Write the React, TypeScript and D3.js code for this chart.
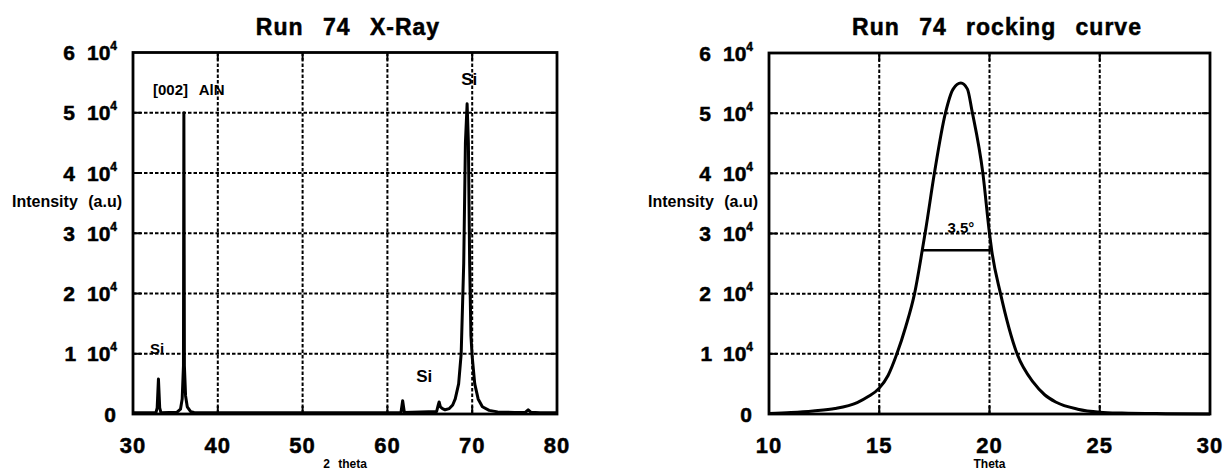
import React from "react";
import * as d3 from "d3";

// y axis is shared: intensity in counts, labelled as "n 10^4"
const yTicks = [0, 10000, 20000, 30000, 40000, 50000, 60000];

// left panel: theta-2theta scan
const xrdTicks = [30, 40, 50, 60, 70, 80];
const xrdTheta = [
  30, 32.7, 32.85, 33.0, 33.15, 33.3, 35.2, 35.6, 35.8, 35.95, 36.0, 36.06,
  36.2, 36.4, 36.8, 37.2, 40, 50, 60, 61.6, 61.8, 62.0, 65.8, 66.0, 66.1,
  66.25, 66.5, 66.8, 67.3, 67.7, 68.0, 68.4, 68.7, 69.0, 69.2, 69.4, 69.55,
  69.7, 69.85, 70.0, 70.3, 70.7, 71.2, 72.0, 73.0, 75.0, 76.3, 76.6, 76.9,
  78.0, 80
];
const xrdCounts = [
  200, 200, 1000, 5800, 1000, 200, 300, 800, 2500, 8000, 50000, 8000,
  3000, 1200, 400, 250, 200, 200, 200, 250, 2200, 250, 400, 1500, 2000,
  1200, 900, 700, 900, 1500, 2500, 5000, 10000, 25000, 45000, 51500, 45000,
  25000, 13000, 9500, 5000, 2500, 1200, 600, 350, 250, 300, 700, 300,
  200, 200
];

// right panel: rocking curve
const rockTicks = [10, 15, 20, 25, 30];
const rockTheta = [
  10, 11, 12, 13, 14, 14.5, 15, 15.4, 15.8, 16.2, 16.6, 16.95, 17.1, 17.5,
  18.0, 18.35, 18.7, 19.0, 19.2, 19.7, 20.0, 20.1, 20.5, 21.25, 22, 22.5, 23,
  24, 25, 26, 28, 30
];
const rockCounts = [
  100, 250, 500, 900, 1900, 2900, 4300, 6400, 10000, 14500, 20000, 27200,
  30500, 40000, 50000, 54000, 55000, 54000, 50500, 40000, 30000, 27200, 20000,
  10000, 5200, 3200, 2000, 800, 300, 150, 50, 0
];
const fwhmEnds = [16.95, 20.1];
const fwhmLevel = 27200;

const FONT = "'Liberation Sans', Arial, Helvetica, sans-serif";

type PanelProps = {
  left: number;
  right: number;
  top: number;
  bottom: number;
  xDomain: [number, number];
  xTicks: number[];
  xs: number[];
  ys: number[];
  smooth?: boolean;
  title: string;
  titleX: number;
  xLabel: string;
  annotate?: (
    x: d3.ScaleLinear<number, number>,
    y: d3.ScaleLinear<number, number>
  ) => React.ReactNode;
};

// scanned print looks heavy, so the big texts get a thin outline
const heavy = { stroke: "#000", strokeWidth: 0.5 };

function Panel(p: PanelProps) {
  const x = d3.scaleLinear().domain(p.xDomain).range([p.left, p.right]);
  const y = d3.scaleLinear().domain([0, 60000]).range([p.bottom, p.top]);
  const line = d3
    .line<number>()
    .x((d, i) => x(p.xs[i]))
    .y((d) => y(d))
    .curve(p.smooth ? d3.curveMonotoneX : d3.curveLinear);

  const inner = p.xTicks.slice(1, -1);
  const innerY = yTicks.slice(1, -1);
  const tick = 8;

  return (
    <g fontFamily={FONT} fontWeight="bold" fill="#000">
      {/* dotted grid */}
      {inner.map((v) => (
        <line
          key={"gx" + v}
          x1={x(v)}
          x2={x(v)}
          y1={p.top}
          y2={p.bottom}
          stroke="#000"
          strokeWidth={2}
          strokeDasharray="3.5 2"
        />
      ))}
      {innerY.map((v) => (
        <line
          key={"gy" + v}
          x1={p.left}
          x2={p.right}
          y1={y(v)}
          y2={y(v)}
          stroke="#000"
          strokeWidth={2}
          strokeDasharray="3.5 2"
        />
      ))}
      {/* inward ticks */}
      {inner.map((v) => (
        <g key={"tx" + v} stroke="#000" strokeWidth={2}>
          <line x1={x(v)} x2={x(v)} y1={p.bottom} y2={p.bottom - tick} />
          <line x1={x(v)} x2={x(v)} y1={p.top} y2={p.top + tick} />
        </g>
      ))}
      {innerY.map((v) => (
        <g key={"ty" + v} stroke="#000" strokeWidth={2}>
          <line x1={p.left} x2={p.left + tick} y1={y(v)} y2={y(v)} />
          <line x1={p.right} x2={p.right - tick} y1={y(v)} y2={y(v)} />
        </g>
      ))}

      <path
        d={line(p.ys) || ""}
        fill="none"
        stroke="#000"
        strokeWidth={3}
        strokeLinejoin="round"
      />

      <rect
        x={p.left}
        y={p.top}
        width={p.right - p.left}
        height={p.bottom - p.top}
        fill="none"
        stroke="#000"
        strokeWidth={2.8}
      />

      {/* y tick labels */}
      {yTicks.map((v) => {
        const m = v / 10000;
        if (m === 0) {
          return (
            <text
              key={"ly" + v}
              x={p.left - 17}
              y={y(v) + 7.5}
              textAnchor="end"
              fontSize={21}
              {...heavy}
            >
              0
            </text>
          );
        }
        return (
          <text
            key={"ly" + v}
            x={p.left - 16}
            y={y(v) + 7.5}
            textAnchor="end"
            fontSize={21}
            {...heavy}
          >
            {m}
            <tspan dx={12}>10</tspan>
            <tspan dy={-10} fontSize={12}>
              4
            </tspan>
          </text>
        );
      })}

      {/* x tick labels */}
      {p.xTicks.map((v) => (
        <text
          key={"lx" + v}
          x={x(v)}
          y={453}
          textAnchor="middle"
          fontSize={22}
          letterSpacing={1}
          {...heavy}
        >
          {v}
        </text>
      ))}

      <text
        x={(p.left + p.right) / 2}
        y={468}
        textAnchor="middle"
        fontSize={12}
        style={{ wordSpacing: "5px" }}
      >
        {p.xLabel}
      </text>

      <text
        x={p.left - 11}
        y={207}
        textAnchor="end"
        fontSize={16}
        style={{ wordSpacing: "6px" }}
      >
        Intensity (a.u)
      </text>

      <text
        x={p.titleX}
        y={35}
        textAnchor="middle"
        fontSize={23}
        letterSpacing={1}
        style={{ wordSpacing: "12px" }}
        {...heavy}
      >
        {p.title}
      </text>

      {p.annotate ? p.annotate(x, y) : null}
    </g>
  );
}

export default function App() {
  return (
    <svg
      width={1226}
      height={473}
      style={{ position: "absolute", left: 0, top: 0, background: "#fff" }}
    >
      <Panel
        left={133}
        right={557}
        top={52.5}
        bottom={414}
        xDomain={[30, 80]}
        xTicks={xrdTicks}
        xs={xrdTheta}
        ys={xrdCounts}
        title="Run 74 X-Ray"
        titleX={348}
        xLabel="2 theta"
        annotate={(x, y) => (
          <g fontWeight="bold">
            <text x={153} y={95} fontSize={15} style={{ wordSpacing: "7px" }}>
              [002] AlN
            </text>
            <text x={x(32.0)} y={y(10000)} fontSize={15}>
              Si
            </text>
            <text x={x(63.4)} y={382} fontSize={17}>
              Si
            </text>
            <text x={x(68.7)} y={85} fontSize={17}>
              Si
            </text>
          </g>
        )}
      />
      <Panel
        left={769}
        right={1210}
        top={53}
        bottom={414}
        xDomain={[10, 30]}
        xTicks={rockTicks}
        xs={rockTheta}
        ys={rockCounts}
        smooth
        title="Run 74 rocking curve"
        titleX={997}
        xLabel="Theta"
        annotate={(x, y) => (
          <g>
            <line
              x1={x(fwhmEnds[0])}
              x2={x(fwhmEnds[1])}
              y1={y(fwhmLevel)}
              y2={y(fwhmLevel)}
              stroke="#000"
              strokeWidth={2.5}
            />
            <text
              x={x(18.7)}
              y={y(30000) - 1}
              textAnchor="middle"
              fontSize={15}
              fontWeight="bold"
            >
              3.5°
            </text>
          </g>
        )}
      />
    </svg>
  );
}
